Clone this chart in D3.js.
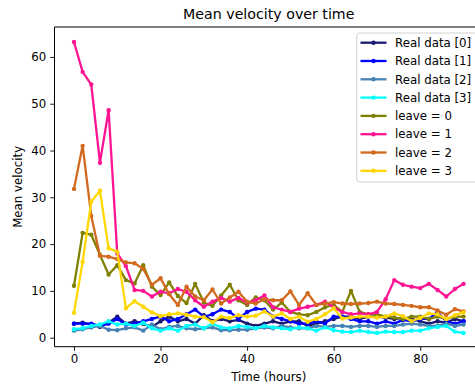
<!DOCTYPE html>
<html><head><meta charset="utf-8">
<script src="https://cdn.jsdelivr.net/npm/d3@7"></script>
<style>body{margin:0;background:#fff}svg{display:block}text{font-family:"DejaVu Sans",sans-serif}</style>
</head><body><svg id="c" width="475" height="390"></svg>
<script>
const hours = d3.range(0, 92, 2);
const seriesNames = ["Real data [0]","Real data [1]","Real data [2]","Real data [3]","leave = 0","leave = 1","leave = 2","leave = 3"];
const seriesColors = ["#191970","#0000ff","#4682b4","#00ffff","#808000","#ff1493","#d2691e","#ffd700"];
const real0 = [3.0,3.2,2.8,2.3,3.2,4.5,3.0,3.5,3.0,2.3,3.5,4.5,3.5,4.0,3.0,4.8,3.5,4.0,3.5,3.8,3.0,2.5,3.0,3.5,3.0,3.5,3.5,2.5,3.0,3.5,4.0,4.5,4.5,4.0,4.5,4.5,4.3,4.0,4.2,4.0,3.5,3.0,3.5,3.2,4.0,3.5];
const real1 = [3.0,3.0,3.0,2.5,3.0,4.0,2.8,3.0,3.5,4.0,4.5,3.5,4.0,5.0,6.0,4.5,5.0,6.0,5.5,4.0,5.5,6.2,6.0,4.5,4.0,3.5,3.0,3.0,3.5,3.0,4.5,4.5,4.0,3.5,3.5,3.0,3.5,3.0,3.8,3.5,4.0,4.0,5.5,3.5,3.0,3.5];
const real2 = [1.5,1.8,2.2,2.5,1.7,1.6,2.0,2.2,1.5,2.8,1.8,2.3,2.5,2.0,1.8,2.0,2.2,1.6,1.6,1.7,1.7,2.0,2.2,2.0,2.5,2.2,2.0,2.0,2.5,2.3,2.5,2.5,2.3,2.5,2.5,2.3,2.5,2.5,2.8,3.0,2.8,2.5,2.5,3.0,2.5,2.8];
const real3 = [1.8,2.0,2.5,2.8,3.5,2.8,3.0,2.5,3.2,2.0,1.5,2.0,1.5,2.5,2.8,2.0,3.0,2.2,2.0,2.5,2.3,2.0,2.5,2.2,2.0,1.8,2.2,2.0,1.5,2.2,1.6,1.3,1.2,1.5,1.2,1.0,1.3,1.2,1.2,1.5,1.5,2.0,2.3,2.5,1.3,1.0];
const leave0 = [11.1,22.4,22.0,17.7,13.5,15.5,12.3,11.6,15.5,10.9,9.1,11.8,8.9,7.4,11.5,7.5,6.8,9.0,11.3,8.0,7.0,8.6,8.0,6.0,7.5,5.5,5.0,4.8,5.5,6.5,7.0,5.5,10.0,5.5,5.0,5.0,4.5,4.3,4.0,4.5,4.5,4.0,4.5,4.0,4.5,4.5];
const leave1 = [63.2,56.8,54.1,37.4,48.6,18.0,15.3,10.2,10.0,8.8,9.8,9.5,10.4,9.8,8.0,6.6,7.7,8.5,7.7,8.5,7.5,8.0,9.0,6.5,6.0,5.5,6.2,6.6,7.0,7.7,6.5,5.5,5.0,5.2,5.0,5.5,8.2,12.3,11.3,10.9,10.6,11.5,10.2,8.8,10.4,11.5];
const leave2 = [31.8,41.0,26.0,17.5,17.3,16.8,16.1,15.9,14.7,11.3,12.7,9.3,7.0,10.9,8.8,8.0,10.3,7.3,8.6,9.8,7.7,7.3,8.2,8.0,8.0,9.9,7.0,9.5,7.0,7.3,7.6,7.3,7.2,7.3,7.4,7.7,7.3,7.2,7.0,6.8,6.5,6.5,5.8,4.9,6.1,5.6];
const leave3 = [5.3,16.2,29.1,31.4,19.1,18.4,6.3,7.8,6.6,5.4,4.6,5.0,5.2,4.9,4.5,4.4,3.3,4.5,4.2,4.8,4.5,4.7,5.6,4.5,5.2,4.0,4.5,3.4,4.0,5.0,6.3,4.1,4.3,4.5,4.5,4.3,4.5,5.2,4.6,3.5,4.2,5.2,5.0,4.0,4.8,5.4];
const seriesValues = [real0, real1, real2, real3, leave0, leave1, leave2, leave3];
const xTicks = [0,20,40,60,80];
const yTicks = [0,10,20,30,40,50,60];

const svg = d3.select("#c");
const L = 54.5, R = 483, T = 27, B = 346.7;
const x = d3.scaleLinear().domain([-4.5, 94.5]).range([L, R]);
const y = d3.scaleLinear().domain([-1.93, 66.4]).range([B, T]);
const fs = 11.8;

const plot = svg.append("g");
const line = d3.line().x((d,i)=>x(hours[i])).y(d=>y(d));
seriesValues.forEach((vals, k) => {
  const g = plot.append("g");
  g.append("path").attr("d", line(vals)).attr("fill","none")
    .attr("stroke", seriesColors[k]).attr("stroke-width", 2.3).attr("stroke-linejoin","round");
  g.selectAll("circle").data(vals).join("circle")
    .attr("cx",(d,i)=>x(hours[i])).attr("cy",d=>y(d)).attr("r",2.2).attr("fill",seriesColors[k]);
});

// spines
svg.append("line").attr("x1",L).attr("x2",L).attr("y1",T).attr("y2",B).attr("stroke","#000").attr("stroke-width",1);
svg.append("line").attr("x1",L).attr("x2",R).attr("y1",B).attr("y2",B).attr("stroke","#000").attr("stroke-width",1);
svg.append("line").attr("x1",L).attr("x2",R).attr("y1",T).attr("y2",T).attr("stroke","#000").attr("stroke-width",1);

// axes
const xa = svg.append("g").attr("transform",`translate(0,${B})`)
  .call(d3.axisBottom(x).tickValues(xTicks).tickSize(4.2).tickPadding(4).tickFormat(d3.format("d")));
const ya = svg.append("g").attr("transform",`translate(${L},0)`)
  .call(d3.axisLeft(y).tickValues(yTicks).tickSize(4.2).tickPadding(4).tickFormat(d3.format("d")));
[xa, ya].forEach(a => {
  a.select(".domain").remove();
  a.selectAll("text").attr("font-size", fs).attr("fill","#000").attr("font-family","DejaVu Sans");
  a.selectAll("line").attr("stroke","#000").attr("stroke-width",0.9);
});

svg.append("text").attr("x",(L+R)/2).attr("y",19).attr("text-anchor","middle")
  .attr("font-size",14.2).attr("fill","#000").text("Mean velocity over time");
svg.append("text").attr("x",(L+R)/2).attr("y",381).attr("text-anchor","middle")
  .attr("font-size",fs).attr("fill","#000").text("Time (hours)");
svg.append("text").attr("transform",`translate(22,${(T+B)/2}) rotate(-90)`).attr("text-anchor","middle")
  .attr("font-size",fs).attr("fill","#000").text("Mean velocity");

// legend
const lg = svg.append("g");
lg.append("rect").attr("x",356.7).attr("y",33).attr("width",140).attr("height",149).attr("rx",3)
  .attr("fill","#fff").attr("fill-opacity",0.8).attr("stroke","#d0d0d0").attr("stroke-width",1);
seriesNames.forEach((n,k) => {
  const yy = 42.7 + 18.3*k;
  lg.append("line").attr("x1",360.5).attr("x2",386.5).attr("y1",yy).attr("y2",yy)
    .attr("stroke",seriesColors[k]).attr("stroke-width",2.3);
  lg.append("circle").attr("cx",373.5).attr("cy",yy).attr("r",2.2).attr("fill",seriesColors[k]);
  lg.append("text").attr("x",395).attr("y",yy).attr("dy","0.36em").attr("font-size",fs).attr("fill","#000").text(n);
});
</script></body></html>
